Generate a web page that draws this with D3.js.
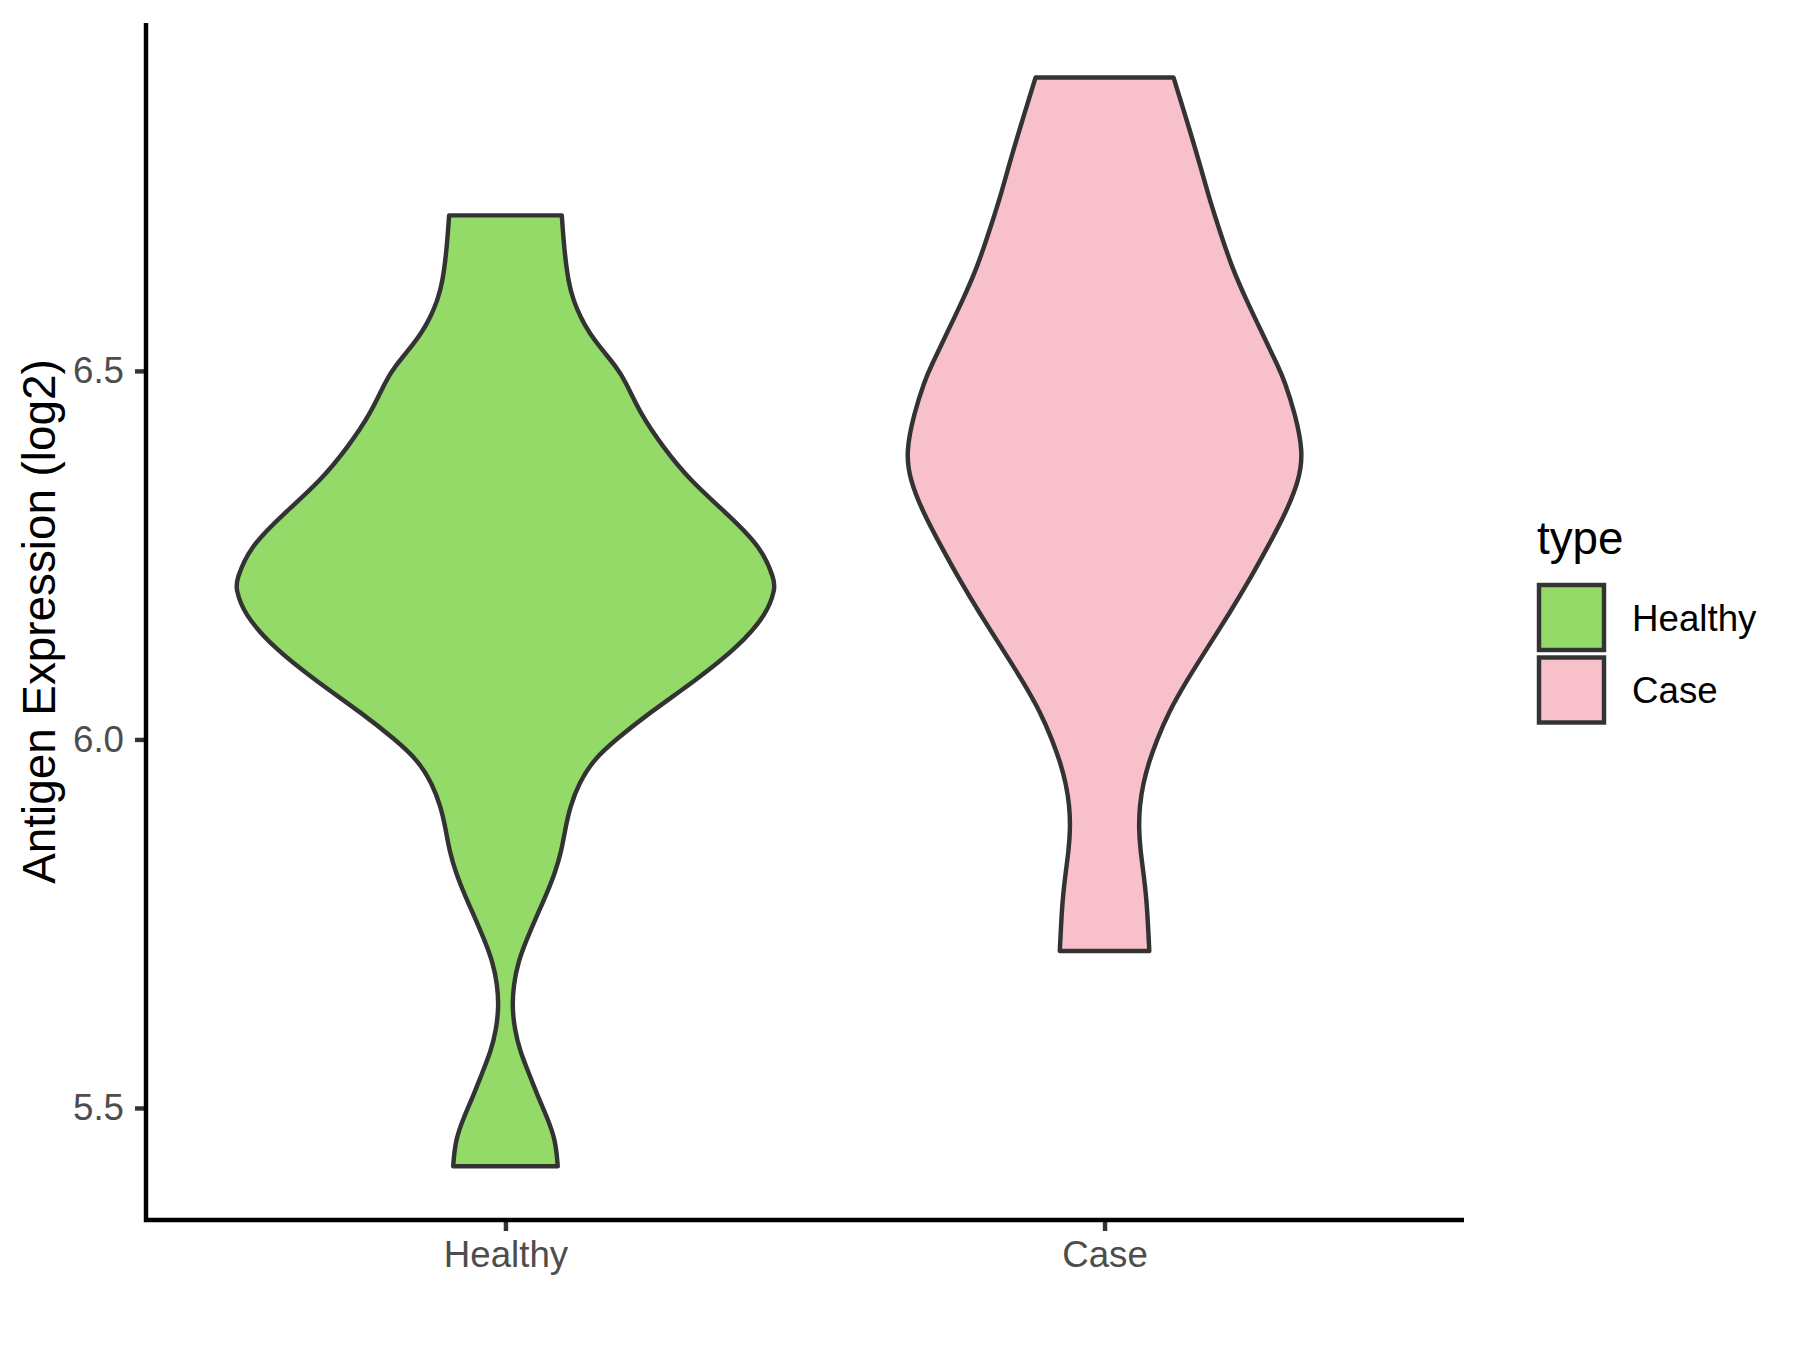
<!DOCTYPE html>
<html>
<head>
<meta charset="utf-8">
<script src="https://cdn.jsdelivr.net/npm/d3@7"></script>
<style>
  body { margin: 0; background: #ffffff; }
  text { font-family: "Liberation Sans", Arial, sans-serif; }
</style>
</head>
<body>
<div id="chart"></div>
<script>
// groups on the x axis
var groups = ["Healthy", "Case"];
var fills = ["#93DA69", "#F7C0CB"];

// y ticks
var yTicks = [5.5, 6.0, 6.5];

// violin outlines: expression value and relative density
var healthyValue = [5.421, 5.456, 5.486, 5.516, 5.547, 5.577, 5.607, 5.637, 5.667, 5.698,
  5.728, 5.758, 5.788, 5.819, 5.849, 5.879, 5.909, 5.94, 5.972, 6.0,
  6.035, 6.08, 6.125, 6.171, 6.205, 6.216, 6.261, 6.307, 6.352, 6.397,
  6.442, 6.487, 6.506, 6.528, 6.551, 6.573, 6.596, 6.619, 6.664, 6.711];
var healthyDensity = [0.194, 0.186, 0.156, 0.120, 0.087, 0.054, 0.034, 0.025, 0.030, 0.047,
  0.078, 0.113, 0.150, 0.184, 0.208, 0.222, 0.240, 0.272, 0.325, 0.410,
  0.530, 0.705, 0.862, 0.972, 1.000, 0.998, 0.950, 0.820, 0.683, 0.584,
  0.500, 0.444, 0.410, 0.360, 0.312, 0.278, 0.252, 0.234, 0.218, 0.209];

var caseValue = [5.713, 5.758, 5.789, 5.82, 5.85, 5.879, 5.91, 5.94, 5.97, 6.0,
  6.035, 6.08, 6.125, 6.171, 6.216, 6.261, 6.307, 6.352, 6.39, 6.442,
  6.487, 6.506, 6.551, 6.596, 6.641, 6.687, 6.732, 6.777, 6.822, 6.898];
var caseDensity = [0.166, 0.160, 0.154, 0.144, 0.133, 0.127, 0.130, 0.143, 0.165, 0.195,
  0.235, 0.305, 0.383, 0.463, 0.537, 0.605, 0.672, 0.722, 0.737, 0.707,
  0.667, 0.644, 0.585, 0.526, 0.472, 0.430, 0.390, 0.356, 0.320, 0.256];

var svgWidth = 1800;
var svgHeight = 1350;

var panel = { left: 146, right: 1464, top: 23, bottom: 1220 };

var svg = d3.select("#chart")
  .append("svg")
  .attr("width", svgWidth)
  .attr("height", svgHeight);

// scales
var xScale = d3.scalePoint()
  .domain(groups)
  .range([panel.left, panel.right])
  .padding(0.6);

var yScale = d3.scaleLinear()
  .domain([5.348, 6.972])
  .range([panel.bottom, panel.top]);

// density -> half width (max violin width = 0.9 of a category step)
var wScale = d3.scaleLinear()
  .domain([0, 1])
  .range([0, xScale.step() * 0.45]);

var violins = [
  { name: "Healthy", fill: fills[0], values: healthyValue, density: healthyDensity },
  { name: "Case", fill: fills[1], values: caseValue, density: caseDensity }
];

// draw violins
violins.forEach(function(v) {
  var cx = xScale(v.name);
  var pts = v.values.map(function(d, i) { return { v: d, w: v.density[i] }; });

  var area = d3.area()
    .y(d => yScale(d.v))
    .x0(d => cx - wScale(d.w))
    .x1(d => cx + wScale(d.w))
    .curve(d3.curveBasis);

  svg.append("path")
    .datum(pts)
    .attr("d", area)
    .attr("fill", v.fill)
    .attr("stroke", "#333333")
    .attr("stroke-width", 4.45)
    .attr("stroke-linejoin", "round");
});

// y axis
var yAxis = svg.append("g")
  .attr("transform", `translate(${panel.left},0)`)
  .call(d3.axisLeft(yScale).tickValues(yTicks).tickFormat(d3.format(".1f")).tickSize(11).tickPadding(11));

// x axis
var xAxis = svg.append("g")
  .attr("transform", `translate(0,${panel.bottom})`)
  .call(d3.axisBottom(xScale).tickSize(11).tickPadding(11));

[yAxis, xAxis].forEach(function(ax) {
  ax.select(".domain").remove();
  ax.selectAll(".tick line")
    .attr("stroke", "#333333")
    .attr("stroke-width", 4.45);
  ax.selectAll(".tick text")
    .attr("fill", "#4D4D4D")
    .style("font-size", "36.7px");
});

xAxis.selectAll(".tick text")
  .attr("y", 47)
  .attr("dy", null);

// axis lines
svg.append("path")
  .attr("d", `M${panel.left},${panel.top}V${panel.bottom}H${panel.right}`)
  .attr("fill", "none")
  .attr("stroke", "#000000")
  .attr("stroke-width", 4.45);

// y axis title
svg.append("text")
  .attr("transform", `translate(55,${(panel.top + panel.bottom) / 2})rotate(-90)`)
  .attr("text-anchor", "middle")
  .style("font-size", "45.8px")
  .attr("fill", "#000000")
  .text("Antigen Expression (log2)");

// legend
var legend = svg.append("g");

legend.append("text")
  .attr("x", 1537)
  .attr("y", 554)
  .style("font-size", "45.8px")
  .attr("fill", "#000000")
  .text("type");

groups.forEach(function(g, i) {
  var top = 585 + i * 72.5;
  legend.append("rect")
    .attr("x", 1539)
    .attr("y", top)
    .attr("width", 65)
    .attr("height", 65)
    .attr("fill", fills[i])
    .attr("stroke", "#333333")
    .attr("stroke-width", 4.45);
  legend.append("text")
    .attr("x", 1632)
    .attr("y", top + 32.5 + 13)
    .style("font-size", "36.7px")
    .attr("fill", "#000000")
    .text(g);
});
</script>
</body>
</html>
